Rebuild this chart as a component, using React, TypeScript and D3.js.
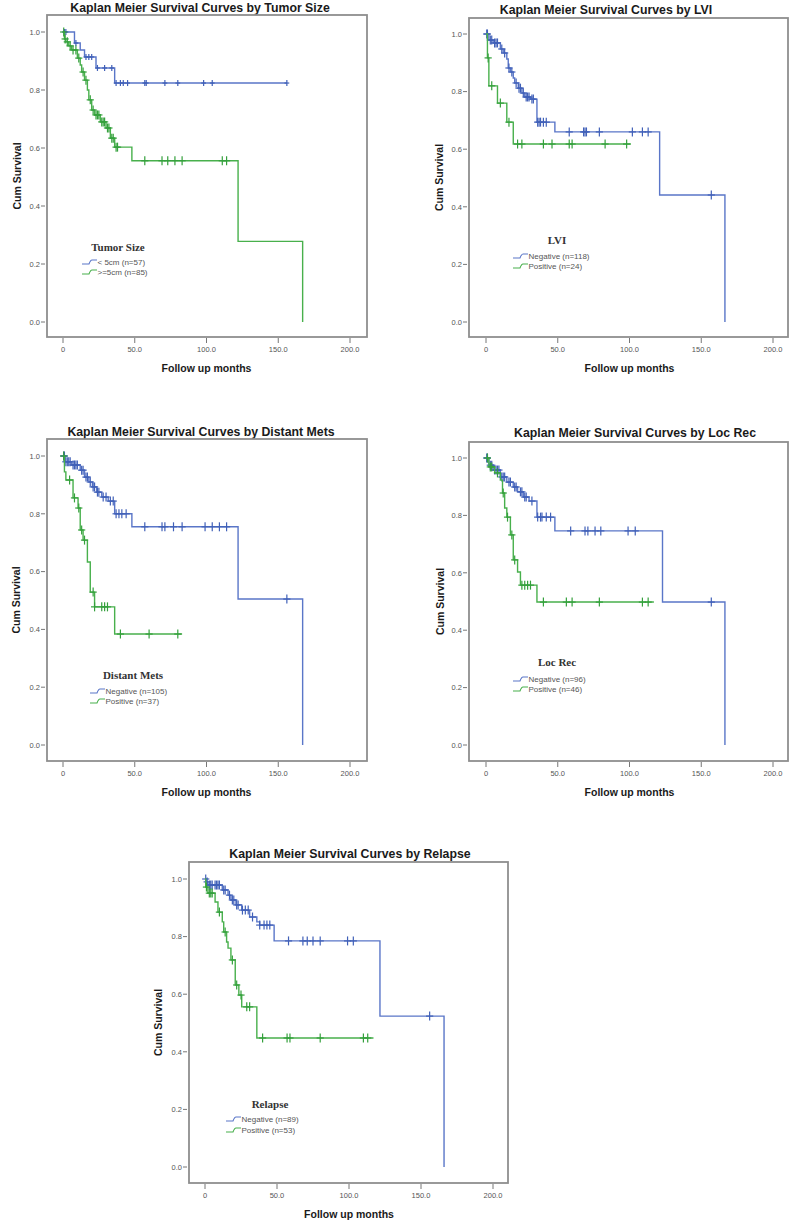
import React from "react";
import * as d3 from "d3";

// ---------- DATA ----------
const xTicks = [0, 50, 100, 150, 200];
const yTicks = [0, 0.2, 0.4, 0.6, 0.8, 1.0];

const panelTitles = [
  "Kaplan Meier Survival Curves by Tumor Size",
  "Kaplan Meier Survival Curves by LVI",
  "Kaplan Meier Survival Curves by Distant Mets",
  "Kaplan Meier Survival Curves by Loc Rec",
  "Kaplan Meier Survival Curves by Relapse",
];
const legendTitles = ["Tumor Size", "LVI", "Distant Mets", "Loc Rec", "Relapse"];
const legendLabels = [
  ["< 5cm (n=57)", ">=5cm (n=85)"],
  ["Negative (n=118)", "Positive (n=24)"],
  ["Negative (n=105)", "Positive (n=37)"],
  ["Negative (n=96)", "Positive (n=46)"],
  ["Negative (n=89)", "Positive (n=53)"],
];

// steps: [time, survival after the drop]
const sizeSmallSteps: [number, number][] = [[0, 1], [8, 0.962], [12, 0.938], [15, 0.914], [23, 0.876], [36, 0.824]];
const sizeSmallEnd = 156;
const sizeSmallCensor = [1, 2, 9, 16, 18, 20, 24, 29, 34, 37, 40, 42, 45, 57, 58, 71, 80, 98, 104, 156];
const sizeLargeSteps: [number, number][] = [[0, 1], [1, 0.976], [2, 0.966], [4, 0.952], [6, 0.938], [10, 0.91], [12, 0.886], [13, 0.862], [15, 0.834], [17, 0.8], [18, 0.766], [20, 0.731], [22, 0.714], [26, 0.69], [30, 0.669], [33, 0.634], [36, 0.603], [48, 0.556], [122, 0.278], [167, 0]];
const sizeLargeEnd = 167;
const sizeLargeCensor = [0.5, 1.5, 3, 5, 7, 9, 11, 14, 16, 19, 21, 23, 24, 25, 27, 28, 29, 31, 32, 34, 35, 37, 38, 57, 69, 73, 78, 83, 111, 114];

const lviNegSteps: [number, number][] = [[0, 1], [2, 0.979], [5, 0.969], [10, 0.948], [12, 0.934], [14.5, 0.913], [15.5, 0.882], [17, 0.868], [19, 0.847], [20, 0.83], [22.5, 0.812], [25, 0.795], [27, 0.781], [31, 0.774], [35.5, 0.694], [48, 0.66], [121, 0.441], [166.5, 0]];
const lviNegEnd = 166.5;
const lviNegCensor = [0.5, 1, 3, 4, 6, 7, 8, 11, 13, 16, 18, 21, 23, 24, 26, 28, 29, 30, 32, 33, 36, 37, 38, 40, 42, 58, 68, 69, 70, 79, 102, 109, 113, 157];
const lviPosSteps: [number, number][] = [[0, 1], [1, 0.917], [2, 0.82], [8, 0.76], [14.5, 0.694], [19, 0.618]];
const lviPosEnd = 101;
const lviPosCensor = [1.5, 4, 10, 16, 22, 25, 40, 46, 58, 60, 83, 98];

const metsNegSteps: [number, number][] = [[0, 1], [1.4, 0.98], [6, 0.969], [12, 0.951], [15, 0.927], [18, 0.91], [20.5, 0.893], [23.5, 0.875], [27, 0.858], [31.5, 0.844], [36, 0.8], [48, 0.755], [122, 0.505], [167, 0]];
const metsNegEnd = 167;
const metsNegCensor = [0.5, 1, 2, 3, 4, 5, 7, 8, 9, 10, 13, 14, 16, 17, 19, 21, 22, 24, 25, 28, 30, 33, 35, 37, 39, 41, 44, 57, 69, 71, 77, 83, 99, 104, 109, 114, 156];
const metsPosSteps: [number, number][] = [[0, 1], [1, 0.945], [2, 0.917], [7, 0.855], [10.5, 0.82], [12, 0.744], [14, 0.709], [17, 0.633], [19, 0.529], [22, 0.478], [36, 0.384]];
const metsPosEnd = 83;
const metsPosCensor = [0.5, 4.6, 8, 11, 13, 15, 21, 22, 27, 29, 31, 40, 60, 80];

const locNegSteps: [number, number][] = [[0, 1], [2, 0.975], [5, 0.958], [10, 0.934], [14.5, 0.916], [19, 0.899], [22, 0.882], [26, 0.864], [30, 0.85], [35.5, 0.794], [48, 0.746], [123, 0.498], [166.5, 0]];
const locNegEnd = 166.5;
const locNegCensor = [0.5, 1, 3, 4, 6, 7, 8, 9, 11, 12, 13, 16, 17, 20, 21, 24, 25, 27, 28, 32, 36, 38, 39, 42, 45, 59, 69, 71, 76, 80, 99, 104, 157];
const locPosSteps: [number, number][] = [[0, 1], [2, 0.969], [6, 0.948], [10, 0.923], [11.5, 0.878], [13, 0.826], [14.5, 0.794], [17, 0.732], [19, 0.645], [22, 0.603], [24, 0.557], [35.5, 0.498]];
const locPosEnd = 117;
const locPosCensor = [1, 3, 4, 8, 12, 15, 18, 20, 25, 27, 29, 31, 40, 56, 60, 79, 109, 113];

const relNegSteps: [number, number][] = [[0, 1], [1, 0.99], [2, 0.979], [12, 0.962], [16, 0.944], [18, 0.927], [21.5, 0.91], [25.5, 0.892], [31, 0.868], [36, 0.851], [38, 0.84], [48, 0.785], [121.5, 0.524], [166, 0]];
const relNegEnd = 166;
const relNegCensor = [0.5, 1.5, 3, 4, 5, 7, 8, 9, 10, 13, 14, 17, 19, 20, 22, 23, 26, 28, 30, 33, 38, 41, 43, 45, 58, 68, 71, 75, 80, 99, 103, 156];
const relPosSteps: [number, number][] = [[0, 1], [0.5, 0.972], [2, 0.951], [7, 0.92], [9, 0.885], [12, 0.851], [13, 0.816], [15, 0.781], [16, 0.76], [18, 0.719], [21, 0.632], [23.5, 0.597], [25.5, 0.556], [36, 0.448]];
const relPosEnd = 117;
const relPosCensor = [1, 3, 4, 5, 10, 14, 19, 22, 25, 29, 31, 40, 57, 59, 80, 110, 113];

// ---------- STYLE / LAYOUT ----------
const BLUE = "#5a76c8";
const BLUE_MARK = "#4060b8";
const GREEN = "#48b04c";
const GREEN_MARK = "#34a03c";
const FRAME = "#8e8e8e";
const SANS = "Arial, 'Liberation Sans', sans-serif";
const SERIF = "'Times New Roman', 'Liberation Serif', serif";

type Series = { steps: [number, number][]; end: number; censor: number[]; color: string; mark: string; ms: number };

type Layout = {
  frame: [number, number, number, number]; // left, top, right, bottom
  x0: number; x200: number; y1: number; y0: number;
  titleX: number; titleY: number;
  yLabelX: number;
  legendTitleX: number; legendTitleY: number; legendX: number; legendY: [number, number];
};

const layouts: Layout[] = [
  { frame: [47, 15, 367, 337], x0: 63, x200: 350, y1: 32, y0: 322, titleX: 200, titleY: 12, yLabelX: 17, legendTitleX: 118, legendTitleY: 251, legendX: 82, legendY: [262, 272] },
  { frame: [469, 18, 788, 337], x0: 486, x200: 773, y1: 34, y0: 322, titleX: 606, titleY: 14, yLabelX: 439, legendTitleX: 557, legendTitleY: 244, legendX: 513, legendY: [256, 266] },
  { frame: [47, 439, 367, 761], x0: 63, x200: 350, y1: 456, y0: 745, titleX: 201, titleY: 436, yLabelX: 16, legendTitleX: 133, legendTitleY: 679, legendX: 90, legendY: [691, 701] },
  { frame: [469, 442, 788, 761], x0: 486, x200: 773, y1: 458, y0: 745, titleX: 635, titleY: 437, yLabelX: 440, legendTitleX: 557, legendTitleY: 666, legendX: 513, legendY: [679, 689] },
  { frame: [189, 862, 508, 1183], x0: 205, x200: 493, y1: 879, y0: 1167, titleX: 350, titleY: 858, yLabelX: 158, legendTitleX: 270, legendTitleY: 1108, legendX: 226, legendY: [1119, 1130] },
];

const panelSeries: Series[][] = [
  [
    { steps: sizeSmallSteps, end: sizeSmallEnd, censor: sizeSmallCensor, color: BLUE, mark: BLUE_MARK, ms: 3 },
    { steps: sizeLargeSteps, end: sizeLargeEnd, censor: sizeLargeCensor, color: GREEN, mark: GREEN_MARK, ms: 4.5 },
  ],
  [
    { steps: lviNegSteps, end: lviNegEnd, censor: lviNegCensor, color: BLUE, mark: BLUE_MARK, ms: 4.5 },
    { steps: lviPosSteps, end: lviPosEnd, censor: lviPosCensor, color: GREEN, mark: GREEN_MARK, ms: 4.5 },
  ],
  [
    { steps: metsNegSteps, end: metsNegEnd, censor: metsNegCensor, color: BLUE, mark: BLUE_MARK, ms: 4.5 },
    { steps: metsPosSteps, end: metsPosEnd, censor: metsPosCensor, color: GREEN, mark: GREEN_MARK, ms: 4.5 },
  ],
  [
    { steps: locNegSteps, end: locNegEnd, censor: locNegCensor, color: BLUE, mark: BLUE_MARK, ms: 4.5 },
    { steps: locPosSteps, end: locPosEnd, censor: locPosCensor, color: GREEN, mark: GREEN_MARK, ms: 4.5 },
  ],
  [
    { steps: relNegSteps, end: relNegEnd, censor: relNegCensor, color: BLUE, mark: BLUE_MARK, ms: 4.5 },
    { steps: relPosSteps, end: relPosEnd, censor: relPosCensor, color: GREEN, mark: GREEN_MARK, ms: 4.5 },
  ],
];

function survAt(steps: [number, number][], t: number) {
  let s = 1;
  for (const [st, sv] of steps) if (st <= t) s = sv;
  return s;
}

function Panel({ idx }: { idx: number }) {
  const L = layouts[idx];
  const x = d3.scaleLinear().domain([0, 200]).range([L.x0, L.x200]);
  const y = d3.scaleLinear().domain([0, 1]).range([L.y0, L.y1]);
  const [fl, ft, fr, fb] = L.frame;
  const line = d3
    .line<[number, number]>()
    .x((d) => x(d[0]))
    .y((d) => y(d[1]))
    .curve(d3.curveStepAfter);
  const series = panelSeries[idx];
  return (
    <g>
      <text x={L.titleX} y={L.titleY} textAnchor="middle" fontFamily={SANS} fontWeight="bold" fontSize={12.3} fill="#1a1a1a">
        {panelTitles[idx]}
      </text>
      <rect x={fl} y={ft} width={fr - fl} height={fb - ft} fill="white" stroke={FRAME} strokeWidth={1.8} />
      {yTicks.map((v) => (
        <g key={"y" + v}>
          <line x1={fl - 6} x2={fl - 2} y1={y(v)} y2={y(v)} stroke="#777" strokeWidth={1} />
          <text x={fl - 7} y={y(v) + 2.8} textAnchor="end" fontFamily={SANS} fontSize={7.5} fill="#555">
            {v.toFixed(1)}
          </text>
        </g>
      ))}
      {xTicks.map((v) => (
        <g key={"x" + v}>
          <line x1={x(v)} x2={x(v)} y1={fb + 1} y2={fb + 6} stroke="#777" strokeWidth={1} />
          <text x={x(v)} y={fb + 15} textAnchor="middle" fontFamily={SANS} fontSize={7.5} fill="#555">
            {v === 0 ? "0" : v.toFixed(1)}
          </text>
        </g>
      ))}
      <text x={x(100)} y={fb + 35} textAnchor="middle" fontFamily={SANS} fontWeight="bold" fontSize={10.5} fill="#1a1a1a">
        Follow up months
      </text>
      <text
        transform={`translate(${L.yLabelX},${(ft + fb) / 2}) rotate(-90)`}
        textAnchor="middle"
        dy="0.35em"
        fontFamily={SANS}
        fontWeight="bold"
        fontSize={10.5}
        fill="#1a1a1a"
      >
        Cum Survival
      </text>
      {series.map((s, i) => {
        const pts: [number, number][] = s.steps.slice();
        const last = pts[pts.length - 1];
        if (last[0] < s.end) pts.push([s.end, last[1]]);
        return (
          <g key={"s" + i}>
            <path d={line(pts) || ""} fill="none" stroke={s.color} strokeWidth={1.4} />
            {s.censor.map((t, j) => {
              const cx = x(t);
              const cy = y(survAt(s.steps, t));
              return (
                <g key={j} stroke={s.mark} strokeWidth={1.2}>
                  <line x1={cx} x2={cx} y1={cy - s.ms} y2={cy + s.ms} />
                  <line x1={cx - s.ms * 0.8} x2={cx + s.ms * 0.8} y1={cy} y2={cy} />
                </g>
              );
            })}
          </g>
        );
      })}
      <text x={L.legendTitleX} y={L.legendTitleY} textAnchor="middle" fontFamily={SERIF} fontWeight="bold" fontSize={11} fill="#333">
        {legendTitles[idx]}
      </text>
      {legendLabels[idx].map((lab, i) => {
        const ly = L.legendY[i];
        const lx = L.legendX;
        const c = i === 0 ? BLUE : GREEN;
        return (
          <g key={"l" + i}>
            <path d={`M${lx},${ly + 2} H${lx + 7} Q${lx + 8.5},${ly - 2} ${lx + 10},${ly - 2} H${lx + 15}`} fill="none" stroke={c} strokeWidth={1.1} />
            <text x={lx + 15.5} y={ly + 2.8} fontFamily={SANS} fontSize={8} fill="#555">
              {lab}
            </text>
          </g>
        );
      })}
    </g>
  );
}

export default function App() {
  return (
    <div style={{ position: "absolute", left: 0, top: 0 }}>
      <svg width={800} height={1221} style={{ display: "block", background: "white" }}>
        <rect x={0} y={0} width={800} height={1221} fill="white" />
        {[0, 1, 2, 3, 4].map((i) => (
          <Panel key={i} idx={i} />
        ))}
      </svg>
    </div>
  );
}
